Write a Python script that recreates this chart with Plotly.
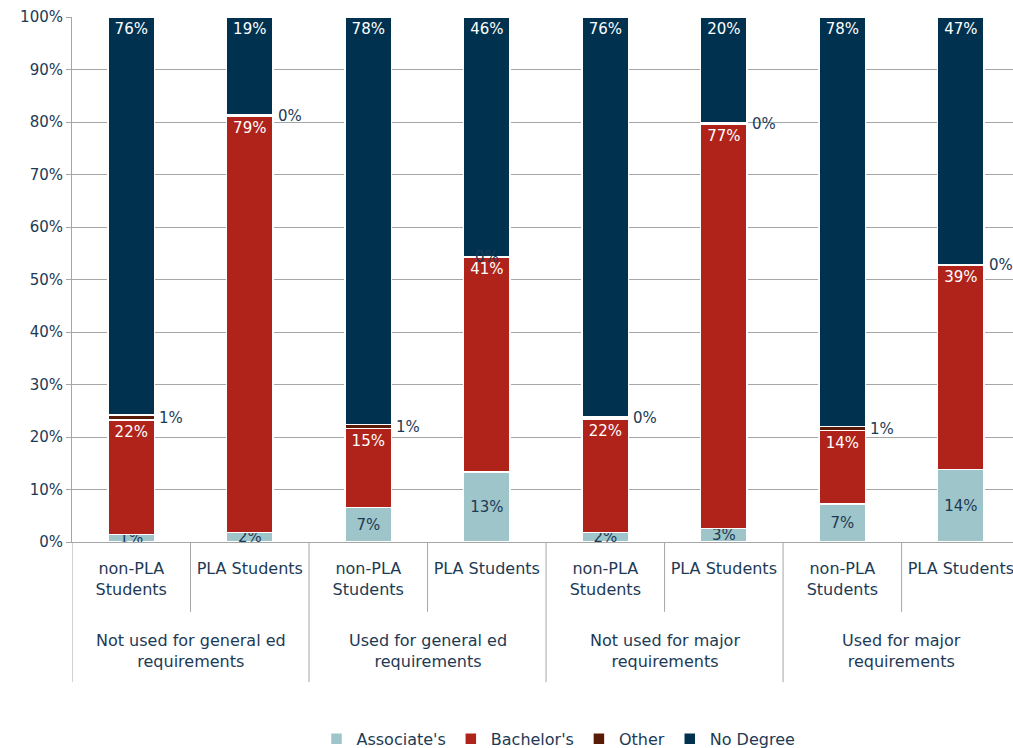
import plotly.graph_objects as go

# categories (two-level x axis)
group_names = ["Not used for general ed<br>requirements", "Used for general ed<br>requirements",
               "Not used for major<br>requirements", "Used for major<br>requirements"]
students = ["non-PLA<br>Students", "PLA Students"] * 4
groups = [g for g in group_names for _ in range(2)]
cats = [f"{g} | {s}" for g, s in zip(groups, students)]

# percentages per degree outcome
associates = [1.4, 1.8, 6.6, 13.3, 1.8, 2.6, 7.2, 13.8]
bachelors = [21.8, 79.3, 15.0, 40.9, 21.6, 77.0, 14.0, 39.0]
other = [1.0, 0.2, 0.8, 0.2, 0.4, 0.2, 0.8, 0.1]
no_degree = [75.8, 18.7, 77.6, 45.6, 76.2, 20.2, 78.0, 47.1]

FONT = "DejaVu Sans"
NAVY = "#1d3a55"
GRID = "#a6a6a6"

fig = go.Figure()

common = dict(x=cats, width=0.39, marker_line_color="white", marker_line_width=1.5,
              texttemplate="%{y:.0f}%", textposition="inside", textangle=0,
              constraintext="none", hoverinfo="skip")

fig.add_trace(go.Bar(name="Associate's", y=associates, marker_color="#9ec5ca",
                     insidetextanchor="middle", textfont=dict(color=NAVY, size=15, family=FONT), **common))
fig.add_trace(go.Bar(name="Bachelor's", y=bachelors, marker_color="#b0231a",
                     insidetextanchor="end", textfont=dict(color="white", size=15, family=FONT), **common))
fig.add_trace(go.Bar(name="Other", y=other, marker_color="#5a1a08", x=cats, width=0.39,
                     marker_line_color="white", marker_line_width=1.5, hoverinfo="skip"))
fig.add_trace(go.Bar(name="No Degree", y=no_degree, marker_color="#00324f",
                     insidetextanchor="end", textfont=dict(color="white", size=15, family=FONT), **common))

# "Other" labels placed to the right of each bar
shifts = [26, 26, 26, 0, 26, 26, 26, 26]
for i in range(len(other)):
    ypos = associates[i] + bachelors[i] + other[i] / 2
    fig.add_annotation(x=i, y=ypos, xref="x", yref="y", text=f"{other[i]:.0f}%",
                       showarrow=False, xanchor="left" if shifts[i] else "center", xshift=shifts[i],
                       font=dict(color=NAVY, size=15, family=FONT))

# group labels (second level of the x axis)
for k, g in enumerate(group_names):
    fig.add_annotation(x=2 * k + 0.5, y=-0.166, xref="x", yref="paper", yanchor="top",
                       text=g, showarrow=False, font=dict(color=NAVY, size=16, family=FONT))

# dividers: short ones between students, long ones between groups
for b in [0.5, 2.5, 4.5, 6.5]:
    fig.add_shape(type="line", xref="x", yref="paper", x0=b, x1=b, y0=0, y1=-0.133,
                  line=dict(color=GRID, width=1))
for b in [-0.5, 1.5, 3.5, 5.5]:
    fig.add_shape(type="line", xref="x", yref="paper", x0=b, x1=b, y0=0, y1=-0.267,
                  line=dict(color=GRID, width=1))

fig.update_layout(
    width=1013, height=748,
    barmode="stack",
    plot_bgcolor="white", paper_bgcolor="white",
    margin=dict(l=72, r=0, t=17, b=206, autoexpand=False),
    font=dict(family=FONT, size=16, color=NAVY),
    legend=dict(orientation="h", x=0.517, xanchor="center", y=-0.375, yanchor="middle",
                font=dict(size=16, color=NAVY), traceorder="normal"),
)
fig.update_xaxes(type="category", range=[-0.5, 7.44], tickvals=cats, ticktext=students,
                 showline=True, linecolor=GRID, ticks="", ticklabelstandoff=12, automargin=False,
                 tickfont=dict(size=16, color=NAVY, family=FONT))
fig.update_yaxes(range=[0, 100], dtick=10, ticksuffix="%", showgrid=True, gridcolor=GRID,
                 showline=True, linecolor=GRID, ticks="outside", ticklen=5, tickcolor=GRID,
                 automargin=False, tickfont=dict(size=15, color=NAVY, family=FONT), zeroline=False)

# drop the page's default body margin so the figure sits at the window's corner
fig.write_html("out.html", config={"displayModeBar": False},
               post_script="document.body.style.margin = '0';")
